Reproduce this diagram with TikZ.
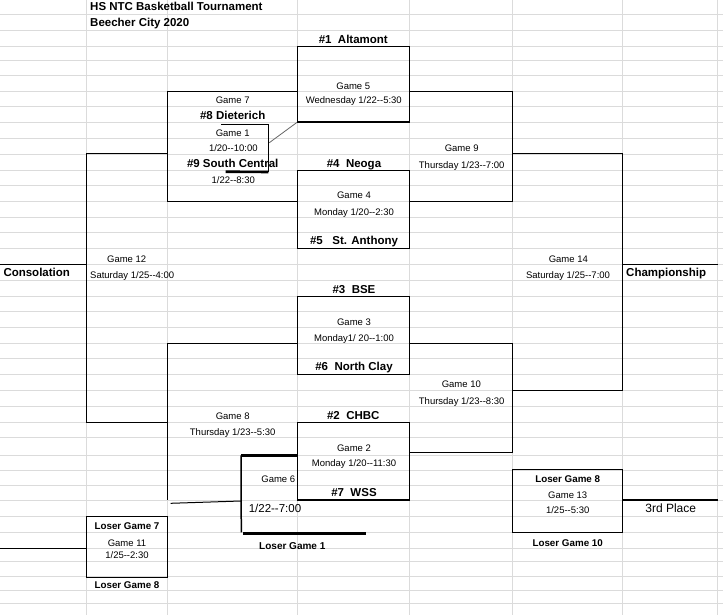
\documentclass[tikz,border=0pt]{standalone}
\usepackage{fontspec}
\setmainfont{Liberation Sans}[Ligatures=TeXOff]
\usetikzlibrary{positioning}

\begin{document}
\begin{tikzpicture}[
    x=1pt, y=-1pt,
    cell grid/.style = {draw=black!14, line width=0.6pt},
    game box/.style = {
        rectangle,
        draw=black,
        line width=1.1pt,
        minimum width=112,
        inner sep=0pt
    },
    bracket/.style = {rectangle, inner sep=0pt},
    line/.style = {draw=black, line width=1.1pt},
    heavy line/.style = {draw=black, line width=2.6pt},
    thin link/.style = {draw=black!60, line width=0.8pt},
    small txt/.style = {font=\fontsize{9.5}{11}\selectfont, inner sep=0pt, text height=6.8pt, text depth=0pt},
    small bold/.style = {font=\fontsize{9.8}{11}\selectfont\bfseries, inner sep=0pt, text height=7pt, text depth=0pt},
    team/.style = {font=\fontsize{11.5}{13}\selectfont\bfseries, inner sep=0pt, text height=8.3pt, text depth=0pt},
    big txt/.style = {font=\fontsize{11.5}{13}\selectfont, inner sep=0pt, text height=8.3pt, text depth=0pt}
]

\useasboundingbox (0,0) rectangle (723,615);

\foreach \gx in {86.7,167.3,297.3,409.3,512.7,622.7,717.7}
    \draw [cell grid] (\gx,0) -- (\gx,615);
\foreach \gy in {14,30.3,46.3,60,75.3,91.3,106.7,122.3,138.3,154,170.3,185.7,201.3,217.3,232.7,248.3,264.3,280.3,296.3,311,327,343.7,358.7,374,390.5,406,422.3,437.7,455,470,485,500,516.3,532.3,548.3,561.7,576.7,590.7,603.3}
    \draw [cell grid] (0,\gy) -- (723,\gy);

\node [team, anchor=west] (title) at (90,6.7) {HS NTC Basketball Tournament};
\node [team, anchor=west] (place) at (90,22.7) {Beecher City 2020};

\node [game box, minimum height=75.7] (g5) at (353.3,84.15) {};
\node [game box, minimum height=77.8] (g4) at (353.3,209.4) {};
\node [game box, minimum height=77.7] (g3) at (353.3,335.35) {};
\node [game box, minimum height=77.5] (g2) at (353.3,461.25) {};
\node [game box, minimum width=110, minimum height=63] (g13) at (567.7,500.8) {};
\node [game box, minimum width=80.6, minimum height=60.8] (g11) at (127,546.9) {};

\node [bracket, minimum width=103.4, minimum height=110] (g9) at (461,146.3) {};
\node [bracket, minimum width=130, minimum height=110] (g7) at (232.3,146.3) {};
\node [bracket, minimum width=110, minimum height=236.3] (g14) at (567.7,272.15) {};
\node [bracket, minimum width=80.6, minimum height=268.3] (g12) at (127,288.15) {};
\node [bracket, minimum width=103.4, minimum height=109] (g10) at (461,398.2) {};
\node [bracket, minimum width=130, minimum height=156.3] (g8) at (232.3,421.85) {};

\draw [line] (g9.north west) -- (g9.north east) -- (g9.south east) -- (g9.south west);
\draw [line] (g7.north east) -- (g7.north west) -- (g7.south west) -- (g7.south east);
\draw [line] (g14.north west) -- (g14.north east) -- (g14.south east) -- (g14.south west);
\draw [line] (g12.north east) -- (g12.north west) -- (g12.south west) -- (g12.south east);
\draw [line] (g10.north west) -- (g10.north east) -- (g10.south east) -- (g10.south west);
\draw [line] (g8.north east) -- (g8.north west) -- (g8.south west);

\coordinate (cons) at (0,264.3);
\coordinate (champ) at (717.7,264.3);
\coordinate (third) at (718.3,500);
\coordinate (lose7) at (0,548.3);
\draw [line] (cons) -- (g12.west |- cons);
\draw [line] (g14.east |- champ) -- (champ);
\draw [line] (g13.east |- third) -- (third);
\draw [line] (lose7) -- (g11.west |- lose7);

\coordinate (g1 tl) at (221,124.3);
\coordinate (g1 tr) at (268.3,124.3);
\coordinate (g1 br) at (268.3,172);
\coordinate (g1 bl) at (225.7,171.7);
\coordinate (g1 mid) at (269.3,142.7);
\draw [line, line width=0.9pt] (g1 tl) -- (g1 tr) -- (g1 br);
\draw [heavy line] (g1 bl) -- (g1 br);
\draw [thin link] (g1 mid) -- (g5.south west);

\coordinate (g6 tl) at (241,455.3);
\coordinate (g6 bl) at (241.3,532.3);
\coordinate (g6 in) at (241,501);
\coordinate (g6 br) at (365.7,533.5);
\coordinate (g8 out) at (170.7,503.3);
\draw [heavy line] (g6 tl) -- (g2.west |- g6 tl);
\draw [line, line width=1.5pt] (g6 tl) -- (g6 bl);
\draw [heavy line] (243.3,533.5) -- (g6 br);
\draw [line, line width=1pt] (g8 out) -- (g6 in);

\node [team] (seed1) at (353.3,39.3) {\#1\ \ Altamont};
\node [small txt] (g5 no) at (353.3,85.7) {Game 5};
\node [small txt] (g5 day) at (353.8,100.3) {Wednesday 1/22--5:30};

\node [small txt] (g7 no) at (232.7,100.3) {Game 7};
\node [team] (seed8) at (232.7,115) {\#8 Dieterich};
\node [small txt] (g1 no) at (232.7,132.7) {Game 1};
\node [small txt] (g1 day) at (233.3,148.3) {1/20--10:00};
\node [team] (seed9) at (232.7,163) {\#9 South Central};
\node [small txt] (g7 day) at (233.3,179.7) {1/22--8:30};

\node [team] (seed4) at (354,163) {\#4\ \ Neoga};
\node [small txt] (g4 no) at (354,195.3) {Game 4};
\node [small txt] (g4 day) at (354,211.7) {Monday 1/20--2:30};
\node [team] (seed5) at (354,240.3) {\#5\ \ \ St. Anthony};

\node [small txt] (g9 no) at (461.7,148.3) {Game 9};
\node [small txt] (g9 day) at (461.7,164.7) {Thursday 1/23--7:00};

\node [small txt] (g12 no) at (126.7,259) {Game 12};
\node [small txt, anchor=west] (g12 day) at (90,274.7) {Saturday 1/25--4:00};
\node [team, anchor=west] (consolation) at (3.3,272.7) {Consolation};

\node [small txt] (g14 no) at (568.3,259) {Game 14};
\node [small txt] (g14 day) at (568,274.7) {Saturday 1/25--7:00};
\node [team, anchor=west] (championship) at (626,272.7) {Championship};

\node [team] (seed3) at (354,289.3) {\#3\ \ BSE};
\node [small txt] (g3 no) at (354,322.3) {Game 3};
\node [small txt] (g3 day) at (354,338) {Monday1/ 20--1:00};
\node [team] (seed6) at (354,366.7) {\#6\ \ North Clay};

\node [small txt] (g10 no) at (461.3,384.3) {Game 10};
\node [small txt] (g10 day) at (461.7,401) {Thursday 1/23--8:30};

\node [small txt] (g8 no) at (232.7,416) {Game 8};
\node [small txt] (g8 day) at (232.7,432) {Thursday 1/23--5:30};

\node [team] (seed2) at (353.3,415) {\#2\ \ CHBC};
\node [small txt] (g2 no) at (354,447.7) {Game 2};
\node [small txt] (g2 day) at (354,463.3) {Monday 1/20--11:30};
\node [team] (seed7) at (354,492.3) {\#7\ \ WSS};

\node [small txt] (g6 no) at (278.3,479) {Game 6};
\node [big txt] (g6 day) at (275,508.7) {1/22--7:00};
\node [small bold, font=\fontsize{10}{12}\selectfont\bfseries] (g6 from) at (292.3,545.7) {Loser Game 1};

\node [small bold] (g13 top) at (567.7,479) {Loser Game 8};
\node [small txt] (g13 no) at (567.7,494.7) {Game 13};
\node [small txt] (g13 day) at (567.7,510.3) {1/25--5:30};
\node [small bold] (g13 bottom) at (567.7,542.7) {Loser Game 10};
\node [big txt, font=\fontsize{12}{14}\selectfont] (third place) at (670.7,508.7) {3rd Place};

\node [small bold] (g11 top) at (127,526) {Loser Game 7};
\node [small txt] (g11 no) at (127,542.7) {Game 11};
\node [small txt] (g11 day) at (127,555) {1/25--2:30};
\node [small bold, below=3.6pt of g11] (g11 bottom) {Loser Game 8};

\end{tikzpicture}
\end{document}
